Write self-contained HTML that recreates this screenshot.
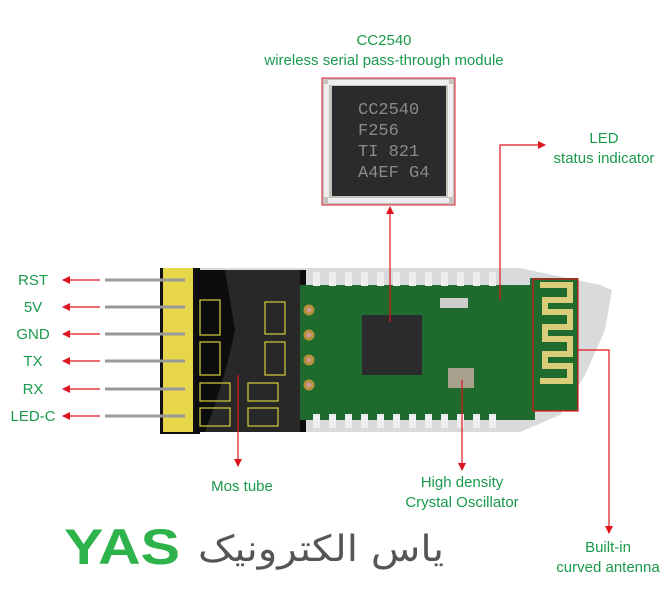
<!DOCTYPE html>
<html><head><meta charset="utf-8"><style>
body{margin:0;background:#fff;}
svg{display:block;}
text{font-family:"Liberation Sans",sans-serif;fill:#1a9a4a;font-size:15px;}
</style></head><body>
<svg width="670" height="590" viewBox="0 0 670 590" xmlns="http://www.w3.org/2000/svg">
<defs>
<marker id="ar" markerWidth="8" markerHeight="8" refX="7" refY="4" orient="auto" markerUnits="userSpaceOnUse">
<path d="M0,0 L8,4 L0,8 z" fill="#e0141e"/></marker>
</defs>
<rect x="322" y="78" width="133" height="127" fill="#c8c2bc" stroke="#d23" stroke-width="1"/>
<g fill="#eee">
<rect x="328" y="80" width="121" height="5"/><rect x="328" y="198" width="121" height="5"/>
<rect x="324" y="84" width="5" height="113"/><rect x="448" y="84" width="5" height="113"/>
</g>
<rect x="332" y="86" width="114" height="110" fill="#2b2b2d"/>
<g style="fill:#8a8a8a;font-size:17px;font-family:'Liberation Mono',monospace">
<text x="358" y="114" style="fill:#8a8a8a;font-size:17px;font-family:'Liberation Mono',monospace">CC2540</text>
<text x="358" y="135" style="fill:#8a8a8a;font-size:17px;font-family:'Liberation Mono',monospace">F256</text>
<text x="358" y="156" style="fill:#8a8a8a;font-size:17px;font-family:'Liberation Mono',monospace">TI 821</text>
<text x="358" y="177" style="fill:#8a8a8a;font-size:17px;font-family:'Liberation Mono',monospace">A4EF G4</text>
</g>
<path d="M195,268 L520,268 L600,285 L612,290 L605,330 L585,375 L560,415 L520,432 L195,432 Z" fill="#d8dadc"/>
<rect x="160" y="268" width="40" height="166" fill="#111"/>
<rect x="196" y="270" width="110" height="162" fill="#0d0d0d"/>
<path d="M225,270 L300,270 L300,432 L205,432 Q225,380 235,330 Z" fill="#3a3a3a" opacity="0.6"/>
<rect x="300" y="285" width="235" height="135" fill="#1f6b2e"/>
<rect x="530" y="278" width="48" height="133" fill="#1f6b2e"/>
<path d="M540,285 h30 v15 h-25 v12 h25 v15 h-25 v12 h25 v15 h-25 v12 h25 v15 h-30" fill="none" stroke="#d9cd7a" stroke-width="6"/>
<g fill="#eee">
<rect x="313" y="272" width="7" height="14"/><rect x="329" y="272" width="7" height="14"/><rect x="345" y="272" width="7" height="14"/><rect x="361" y="272" width="7" height="14"/><rect x="377" y="272" width="7" height="14"/><rect x="393" y="272" width="7" height="14"/><rect x="409" y="272" width="7" height="14"/><rect x="425" y="272" width="7" height="14"/><rect x="441" y="272" width="7" height="14"/><rect x="457" y="272" width="7" height="14"/><rect x="473" y="272" width="7" height="14"/><rect x="489" y="272" width="7" height="14"/>
<rect x="313" y="414" width="7" height="14"/><rect x="329" y="414" width="7" height="14"/><rect x="345" y="414" width="7" height="14"/><rect x="361" y="414" width="7" height="14"/><rect x="377" y="414" width="7" height="14"/><rect x="393" y="414" width="7" height="14"/><rect x="409" y="414" width="7" height="14"/><rect x="425" y="414" width="7" height="14"/><rect x="441" y="414" width="7" height="14"/><rect x="457" y="414" width="7" height="14"/><rect x="473" y="414" width="7" height="14"/><rect x="489" y="414" width="7" height="14"/>
</g>
<rect x="362" y="315" width="60" height="60" fill="#2b2b2d"/>
<rect x="448" y="368" width="26" height="20" fill="#aaa08e"/>
<rect x="440" y="298" width="28" height="10" fill="#ccc"/>
<g fill="#c99" stroke="#b8903a" stroke-width="3"><circle cx="309" cy="310" r="4"/><circle cx="309" cy="335" r="4"/><circle cx="309" cy="360" r="4"/><circle cx="309" cy="385" r="4"/></g>
<g fill="none" stroke="#c9c23a" stroke-width="1.3">
<rect x="200" y="300" width="20" height="35"/><rect x="200" y="342" width="20" height="33"/><rect x="265" y="302" width="20" height="32"/><rect x="265" y="342" width="20" height="33"/>
<rect x="200" y="383" width="30" height="18"/><rect x="248" y="383" width="30" height="18"/><rect x="200" y="408" width="30" height="18"/><rect x="248" y="408" width="30" height="18"/>
</g>
<rect x="163" y="268" width="30" height="164" fill="#e8d64a"/>
<g stroke="#999" stroke-width="3">
<line x1="105" y1="280" x2="185" y2="280"/><line x1="105" y1="307" x2="185" y2="307"/><line x1="105" y1="334" x2="185" y2="334"/><line x1="105" y1="361" x2="185" y2="361"/><line x1="105" y1="389" x2="185" y2="389"/><line x1="105" y1="416" x2="185" y2="416"/>
</g>
<g stroke="#e0141e" stroke-width="1.2" fill="none">
<line x1="100" y1="280" x2="63" y2="280" marker-end="url(#ar)"/>
<line x1="100" y1="307" x2="63" y2="307" marker-end="url(#ar)"/>
<line x1="100" y1="334" x2="63" y2="334" marker-end="url(#ar)"/>
<line x1="100" y1="361" x2="63" y2="361" marker-end="url(#ar)"/>
<line x1="100" y1="389" x2="63" y2="389" marker-end="url(#ar)"/>
<line x1="100" y1="416" x2="63" y2="416" marker-end="url(#ar)"/>
<line x1="390" y1="322" x2="390" y2="207" marker-end="url(#ar)"/>
<polyline points="500,300 500,145 545,145" marker-end="url(#ar)"/>
<line x1="238" y1="375" x2="238" y2="466" marker-end="url(#ar)"/>
<line x1="462" y1="380" x2="462" y2="470" marker-end="url(#ar)"/>
<rect x="533" y="279" width="45" height="132" stroke="#e0141e"/>
<polyline points="578,350 609,350 609,533" marker-end="url(#ar)"/>
</g>
<g text-anchor="middle">
<text x="384" y="45">CC2540</text>
<text x="384" y="65">wireless serial pass-through module</text>
<text x="604" y="143">LED</text>
<text x="604" y="163">status indicator</text>
<text x="33" y="285">RST</text><text x="33" y="312">5V</text><text x="33" y="339">GND</text>
<text x="33" y="366">TX</text><text x="33" y="394">RX</text><text x="33" y="421">LED-C</text>
<text x="242" y="491">Mos tube</text>
<text x="462" y="487">High density</text>
<text x="462" y="507">Crystal Oscillator</text>
<text x="608" y="552">Built-in</text>
<text x="608" y="572">curved antenna</text>
</g>
<text x="64" y="564" textLength="116" lengthAdjust="spacingAndGlyphs" style="font-size:50px;font-weight:bold;fill:#2db34a">YAS</text>
<text x="198" y="561" textLength="246" lengthAdjust="spacingAndGlyphs" style="font-size:36px;fill:#555;font-family:'DejaVu Sans',sans-serif">یاس الکترونیک</text>
</svg>
</body></html>
